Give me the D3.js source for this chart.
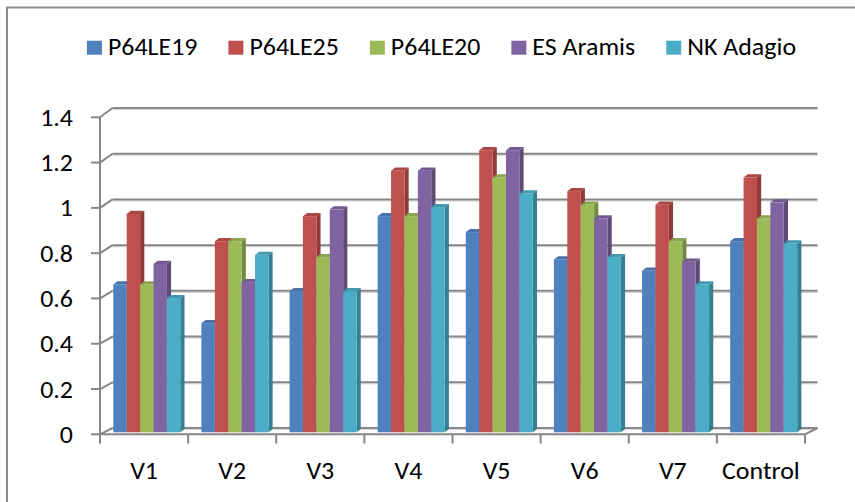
<!DOCTYPE html>
<html>
<head>
<meta charset="utf-8">
<script src="https://cdn.jsdelivr.net/npm/d3@7"></script>
<style>
  html, body { margin: 0; padding: 0; background: #fff; }
  svg { display: block; }
  text { font-family: Carlito, Lato, "Open Sans", sans-serif; fill: #000; }
</style>
</head>
<body>
<svg id="chart" width="855" height="502"></svg>
<script>
const categories = ["V1", "V2", "V3", "V4", "V5", "V6", "V7", "Control"];
const seriesNames = ["P64LE19", "P64LE25", "P64LE20", "ES Aramis", "NK Adagio"];
const P64LE19  = [0.65, 0.48, 0.62, 0.95, 0.88, 0.76, 0.71, 0.84];
const P64LE25  = [0.96, 0.84, 0.95, 1.15, 1.24, 1.06, 1.00, 1.12];
const P64LE20  = [0.65, 0.84, 0.77, 0.95, 1.12, 1.00, 0.84, 0.94];
const ESAramis = [0.74, 0.66, 0.98, 1.15, 1.24, 0.94, 0.75, 1.01];
const NKAdagio = [0.59, 0.78, 0.62, 0.99, 1.05, 0.77, 0.65, 0.83];
const yTicks = [0, 0.2, 0.4, 0.6, 0.8, 1, 1.2, 1.4];
const colors = ["#4F81BD", "#C0504D", "#9BBB59", "#8064A2", "#4BACC6"];

const seriesData = [P64LE19, P64LE25, P64LE20, ESAramis, NKAdagio];
const svg = d3.select("#chart");
const FS = 24, SX = 1.08;

function addText(parent, x, y, str, anchor) {
  const t = parent.append("g").attr("transform", `translate(${x},${y}) scale(${SX},1)`)
    .append("text").attr("font-size", FS).attr("text-anchor", anchor || "start").text(str);
  return t;
}

// outer chart border
svg.append("rect").attr("x", 7).attr("y", 7.5).attr("width", 900).attr("height", 600)
  .attr("fill", "none").attr("stroke", "#8c8c8c").attr("stroke-width", 2);

// 3D geometry
const depthDX = 12.5, frontX0 = 100, frontX1 = 805;
const yFront = d3.scaleLinear().domain([0, 1.4]).range([434.3, 117.3]);
const yBack  = d3.scaleLinear().domain([0, 1.4]).range([428, 108]);
const yBar   = d3.scaleLinear().domain([0, 1.4]).range([432.3, 113.8]);

const gridCol = "#868686";
const g = svg.append("g");

yTicks.forEach(v => {
  g.append("line").attr("x1", frontX0 + depthDX).attr("x2", frontX1 + depthDX)
    .attr("y1", yBack(v) + 1.6).attr("y2", yBack(v) + 1.6)
    .attr("stroke", "#d4d4d4").attr("stroke-width", 1);
  g.append("line").attr("x1", frontX0 + depthDX).attr("x2", frontX1 + depthDX)
    .attr("y1", yBack(v)).attr("y2", yBack(v))
    .attr("stroke", gridCol).attr("stroke-width", 2);
  g.append("line").attr("x1", frontX0).attr("y1", yFront(v))
    .attr("x2", frontX0 + depthDX).attr("y2", yBack(v))
    .attr("stroke", gridCol).attr("stroke-width", 2);
  g.append("line").attr("x1", frontX0 - 9).attr("x2", frontX0)
    .attr("y1", yFront(v)).attr("y2", yFront(v))
    .attr("stroke", gridCol).attr("stroke-width", 2);
  addText(g, 73, yFront(v) + 8.5, d3.format("")(v), "end");
});

g.append("line").attr("x1", frontX0).attr("x2", frontX0)
  .attr("y1", yFront(1.4)).attr("y2", yFront(0))
  .attr("stroke", gridCol).attr("stroke-width", 2);

// floor
g.append("line").attr("x1", frontX0).attr("x2", frontX1)
  .attr("y1", yFront(0)).attr("y2", yFront(0))
  .attr("stroke", gridCol).attr("stroke-width", 2);
g.append("line").attr("x1", frontX1).attr("y1", yFront(0))
  .attr("x2", frontX1 + depthDX).attr("y2", yBack(0))
  .attr("stroke", gridCol).attr("stroke-width", 2);

// x axis
const x0 = d3.scaleBand().domain(categories).range([frontX0, frontX1]);
const x1 = d3.scaleBand().domain(seriesNames).range([0, 67]);
const ticksX = categories.map(c => x0(c)).concat([frontX1]);
ticksX.forEach(tx => {
  g.append("line").attr("x1", tx).attr("x2", tx).attr("y1", yFront(0)).attr("y2", 443.5)
    .attr("stroke", gridCol).attr("stroke-width", 2);
});
categories.forEach(c => {
  addText(g, x0(c) + x0.bandwidth() / 2, 479, c, "middle");
});

// bars
const bdx = 4.2, bdy = -3.2;
const bars = svg.append("g");
categories.forEach((c, ci) => {
  seriesNames.forEach((s, si) => {
    const v = seriesData[si][ci];
    const bx = x0(c) + 13.3 + x1(s);
    const bw = x1.bandwidth();
    const top = yBar(v), base = yBar(0);
    const col = d3.color(colors[si]);
    const side = col.darker(0.85).formatHex();
    const topc = col.darker(0.35).formatHex();
    bars.append("path")
      .attr("d", `M${bx + bw},${top} L${bx + bw + bdx},${top + bdy} L${bx + bw + bdx},${base + bdy} L${bx + bw},${base} Z`)
      .attr("fill", side);
    bars.append("path")
      .attr("d", `M${bx},${top} L${bx + bdx},${top + bdy} L${bx + bw + bdx},${top + bdy} L${bx + bw},${top} Z`)
      .attr("fill", topc);
    bars.append("rect").attr("x", bx).attr("y", top).attr("width", bw).attr("height", base - top)
      .attr("fill", colors[si]);
  });
});

// legend
const leg = svg.append("g");
let cursor = 0;
const items = seriesNames.map((s, i) => {
  const t = addText(leg, 0, 55, s, "start");
  const w = t.node().getComputedTextLength() * SX;
  const it = { t, w, i, start: cursor };
  cursor += 15 + 6 + w + 31;
  return it;
});
const total = cursor - 31;
const lx0 = 441.5 - total / 2;
items.forEach(it => {
  const sx = lx0 + it.start;
  leg.append("rect").attr("x", sx).attr("y", 40.7).attr("width", 15).attr("height", 14)
    .attr("fill", colors[it.i]);
  d3.select(it.t.node().parentNode).attr("transform", `translate(${sx + 21},55) scale(${SX},1)`);
});
</script>
</body>
</html>
